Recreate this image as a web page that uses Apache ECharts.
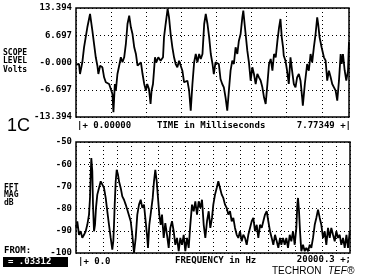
<!DOCTYPE html>
<html><head><meta charset="utf-8">
<script src="https://cdn.jsdelivr.net/npm/echarts@6/dist/echarts.min.js"></script>
<style>html,body{margin:0;padding:0;background:#fff}#c{width:375px;height:280px}</style>
</head><body><div id="c"></div>
<script>
// ---- data ----
const timeMin = 0, timeMax = 7.77349;
const freqMin = 0, freqMax = 20000.3;
const scopeTickLabels = ["-13.394", "-6.697", "-0.000", "6.697", "13.394"];
const fftTickLabels = ["-100", "-90", "-80", "-70", "-60", "-50"];
// [time ms, volts]
const scopeSamples = [
[0.000,-0.50],[0.020,-0.79],[0.086,-0.37],[0.114,-2.83],[0.180,0.05],[0.229,3.74],[0.323,8.65],[0.400,11.92],
[0.466,7.81],[0.514,4.55],[0.563,1.28],[0.609,-0.79],[0.637,-2.83],[0.686,-0.79],[0.752,-1.18],[0.800,-3.64],
[0.849,-4.87],[0.895,-4.87],[0.943,-5.28],[0.992,-4.87],[1.037,-7.74],[1.066,-12.24],[1.106,-5.28],[1.135,-6.93],
[1.180,-2.83],[1.229,-0.79],[1.277,1.28],[1.323,0.05],[1.372,1.28],[1.420,4.55],[1.466,9.46],[1.515,11.50],
[1.563,8.65],[1.609,7.00],[1.658,3.74],[1.706,2.09],[1.752,-0.79],[1.800,-1.18],[1.849,0.05],[1.895,-2.83],
[1.943,-5.28],[1.992,-6.93],[2.029,-5.28],[2.078,-6.51],[2.123,-10.20],[2.152,-6.93],[2.192,-5.28],[2.221,-2.02],
[2.249,1.28],[2.286,0.05],[2.343,1.28],[2.409,0.44],[2.478,1.28],[2.506,6.19],[2.552,9.46],[2.609,13.15],
[2.649,11.11],[2.695,7.00],[2.744,3.74],[2.792,1.28],[2.838,-0.37],[2.886,-1.18],[2.935,0.44],[2.981,0.05],
[3.029,-2.02],[3.078,-4.87],[3.124,-5.28],[3.172,-4.47],[3.221,-6.93],[3.267,-11.85],[3.315,-5.28],[3.364,0.05],
[3.410,2.09],[3.458,0.05],[3.507,2.09],[3.552,0.86],[3.601,2.09],[3.650,9.46],[3.695,11.92],[3.744,9.46],
[3.792,6.19],[3.838,2.09],[3.887,-0.37],[3.924,-2.83],[3.972,0.05],[4.021,0.44],[4.067,-0.37],[4.115,-4.06],
[4.164,-5.28],[4.210,-6.10],[4.258,-8.55],[4.307,-11.85],[4.353,-6.93],[4.401,-2.02],[4.450,0.44],[4.496,-0.37],
[4.544,3.74],[4.593,2.09],[4.638,5.36],[4.687,7.00],[4.736,11.11],[4.764,12.73],[4.801,9.46],[4.830,7.00],
[4.878,2.90],[4.924,0.05],[4.973,-4.47],[5.021,-1.18],[5.067,-2.83],[5.116,-5.28],[5.164,-2.83],[5.210,-3.64],
[5.259,-4.47],[5.307,-6.10],[5.353,-8.55],[5.401,-10.20],[5.450,-5.28],[5.496,-0.37],[5.544,0.86],[5.593,-2.02],
[5.639,2.09],[5.687,1.28],[5.736,5.36],[5.782,8.65],[5.822,10.69],[5.859,6.19],[5.896,3.74],[5.916,1.67],
[5.965,0.44],[6.010,-2.02],[6.059,-5.28],[6.107,1.28],[6.153,-2.02],[6.202,-5.28],[6.250,-6.10],[6.296,-3.64],
[6.345,-2.83],[6.393,-4.47],[6.439,-8.55],[6.459,-10.62],[6.516,-5.28],[6.582,-0.37],[6.630,-2.02],[6.679,2.09],
[6.725,0.05],[6.773,3.74],[6.822,7.00],[6.868,11.11],[6.896,9.46],[6.936,6.19],[6.993,3.74],[7.059,1.28],
[7.108,0.44],[7.153,-4.47],[7.202,-2.02],[7.251,-3.64],[7.296,-5.28],[7.345,-6.10],[7.393,-6.93],[7.439,-9.39],
[7.488,-4.47],[7.536,2.09],[7.565,-0.37],[7.602,2.09],[7.651,-2.02],[7.696,-4.47],[7.745,-2.02],[7.773,5.00]
];
// [frequency Hz, magnitude dB]
const fftSamples = [
[0,-87.4],[51,-88.7],[95,-85.7],[219,-91.8],[343,-90.2],[460,-93.2],[584,-91.8],[708,-90.2],
[825,-87.3],[949,-82.7],[1022,-75.2],[1073,-64.7],[1117,-57.2],[1190,-63.2],[1241,-78.2],[1314,-90.2],
[1387,-87.3],[1460,-79.7],[1555,-73.7],[1679,-70.7],[1803,-67.7],[1920,-68.5],[2044,-70.7],[2168,-75.2],
[2285,-81.2],[2409,-87.3],[2533,-93.2],[2650,-98.5],[2723,-94.7],[2774,-87.3],[2825,-78.2],[2898,-67.7],
[2971,-62.5],[3066,-64.7],[3139,-67.7],[3263,-70.7],[3380,-74.5],[3504,-76.0],[3628,-78.2],[3745,-80.5],
[3869,-79.7],[3993,-85.7],[4110,-91.8],[4234,-100],[4358,-93.2],[4475,-82.7],[4599,-78.2],[4723,-76.0],
[4840,-79.7],[4964,-78.2],[5059,-84.2],[5183,-91.8],[5256,-97.7],[5351,-87.3],[5475,-81.2],[5599,-75.2],
[5694,-67.7],[5789,-62.5],[5891,-67.7],[5986,-75.2],[6081,-82.7],[6183,-87.3],[6278,-82.7],[6402,-93.2],
[6519,-86.5],[6643,-91.8],[6767,-97.7],[6884,-88.7],[7008,-85.7],[7132,-90.2],[7249,-96.3],[7373,-93.2],
[7497,-99.2],[7614,-93.2],[7738,-96.3],[7862,-91.8],[7979,-99.2],[8103,-93.2],[8227,-97.7],[8344,-87.3],
[8468,-78.2],[8592,-81.2],[8709,-76.7],[8833,-82.7],[8957,-76.7],[9074,-79.7],[9198,-76.0],[9322,-87.3],
[9439,-93.2],[9563,-85.7],[9687,-81.2],[9804,-88.7],[9928,-84.2],[10023,-78.2],[10147,-73.7],[10271,-70.7],
[10388,-67.7],[10512,-70.7],[10636,-73.7],[10753,-75.2],[10877,-78.2],[11001,-79.7],[11118,-82.7],[11242,-81.2],
[11366,-85.7],[11483,-84.2],[11607,-88.7],[11731,-91.8],[11848,-93.2],[11972,-90.2],[12096,-94.7],[12213,-91.8],
[12337,-93.2],[12461,-96.3],[12578,-91.8],[12702,-88.7],[12826,-85.7],[12943,-84.2],[13067,-90.2],[13191,-87.3],
[13308,-93.2],[13432,-87.3],[13556,-88.7],[13673,-85.7],[13797,-82.7],[13921,-81.2],[14038,-85.7],[14162,-90.2],
[14286,-93.2],[14403,-96.3],[14527,-91.8],[14651,-94.7],[14768,-97.7],[14892,-93.2],[14987,-96.3],[15111,-93.2],
[15235,-96.3],[15352,-93.2],[15476,-97.7],[15600,-91.8],[15717,-94.7],[15841,-90.2],[15965,-96.3],[16082,-88.7],
[16155,-78.2],[16206,-75.2],[16279,-81.2],[16352,-90.2],[16447,-99.2],[16571,-96.3],[16695,-99.2],[16812,-97.7],
[16936,-99.2],[17060,-96.3],[17177,-97.7],[17301,-93.2],[17425,-87.3],[17542,-84.2],[17666,-80.5],[17790,-84.2],
[17907,-87.3],[18031,-93.2],[18155,-90.2],[18272,-96.3],[18396,-88.7],[18520,-93.2],[18637,-88.7],[18761,-91.8],
[18885,-94.7],[19002,-90.2],[19126,-93.2],[19250,-91.8],[19367,-96.3],[19491,-93.2],[19615,-97.7],[19740,-91.8],
[19856,-97.7],[19980,-90.2]
];

// ---- chart ----
const MONO = '"DejaVu Sans Mono", monospace';
const dots = { type: [1, 3], color: '#000', width: 1 };
const chart = echarts.init(document.getElementById('c'), null, { renderer: 'canvas' });
const yLab = (labels, min, step) => ({
  color: '#000', fontFamily: MONO, fontWeight: 'bold', fontSize: 9, margin: 4,
  formatter: v => labels[Math.round((v - min) / step)] || ''
});
function txt(x, y, text, opt) {
  opt = opt || {};
  return { type: 'text', x: x, y: y, z: 100, style: {
    text: text, fill: opt.fill || '#000',
    font: opt.font || ('bold 9px ' + MONO),
    align: opt.align || 'left', verticalAlign: 'middle'
  } };
}
chart.setOption({
  animation: false,
  backgroundColor: '#fff',
  grid: [
    { left: 76, top: 8, width: 273, height: 109, show: true, borderColor: '#000', borderWidth: 1.5, backgroundColor: 'transparent' },
    { left: 76, top: 142, width: 274, height: 111, show: true, borderColor: '#000', borderWidth: 1.5, backgroundColor: 'transparent' }
  ],
  xAxis: [
    { type: 'value', gridIndex: 0, min: timeMin, max: timeMax, interval: 1,
      axisLine: { show: false }, axisTick: { show: false }, axisLabel: { show: false },
      splitLine: { show: true, lineStyle: dots } },
    { type: 'value', gridIndex: 1, min: freqMin, max: freqMax, interval: 1000,
      axisLine: { show: false }, axisTick: { show: false }, axisLabel: { show: false },
      splitLine: { show: true, lineStyle: dots } }
  ],
  yAxis: [
    { type: 'value', gridIndex: 0, min: -13.394, max: 13.394, interval: 6.697,
      axisLine: { show: false }, axisTick: { show: false },
      axisLabel: yLab(scopeTickLabels, -13.394, 6.697),
      splitLine: { show: true, lineStyle: dots } },
    { type: 'value', gridIndex: 1, min: -100, max: -50, interval: 10,
      axisLine: { show: false }, axisTick: { show: false },
      axisLabel: yLab(fftTickLabels, -100, 10),
      splitLine: { show: true, lineStyle: dots } }
  ],
  series: [
    { type: 'line', xAxisIndex: 0, yAxisIndex: 0, data: scopeSamples, showSymbol: false,
      lineStyle: { color: '#000', width: 1.8 }, clip: true },
    { type: 'line', xAxisIndex: 1, yAxisIndex: 1, data: fftSamples, showSymbol: false,
      lineStyle: { color: '#000', width: 1.8 }, clip: true }
  ],
  graphic: [
    txt(3, 53, 'SCOPE', { font: 'bold 8px ' + MONO }),
    txt(3, 61, 'LEVEL', { font: 'bold 8px ' + MONO }),
    txt(3, 70, 'Volts', { font: 'bold 8px ' + MONO }),
    txt(7, 126, '1C', { font: '18px "Liberation Sans", Arial, sans-serif' }),
    txt(77, 126, '|+ 0.00000'),
    txt(157, 126, 'TIME in Milliseconds'),
    txt(351, 126, '7.77349 +|', { align: 'right' }),
    txt(4, 188, 'FFT', { font: 'bold 8px ' + MONO }),
    txt(4, 195, 'MAG', { font: 'bold 8px ' + MONO }),
    txt(4, 203, 'dB', { font: 'bold 8px ' + MONO }),
    txt(4, 251, 'FROM:'),
    { type: 'rect', shape: { x: 3, y: 257, width: 65, height: 10 }, style: { fill: '#000' }, z: 99 },
    txt(8, 262, '= .03312', { fill: '#fff' }),
    txt(78, 262, '|+ 0.0'),
    txt(175, 261, 'FREQUENCY in Hz'),
    txt(351, 260, '20000.3 +;', { align: 'right' }),
    txt(272, 271, 'TECHRON', { font: '10px "Liberation Sans", Arial, sans-serif' }),
    txt(328, 271, 'TEF®', { font: 'italic 10px "Liberation Sans", Arial, sans-serif' })
  ]
});
</script>
</body></html>
